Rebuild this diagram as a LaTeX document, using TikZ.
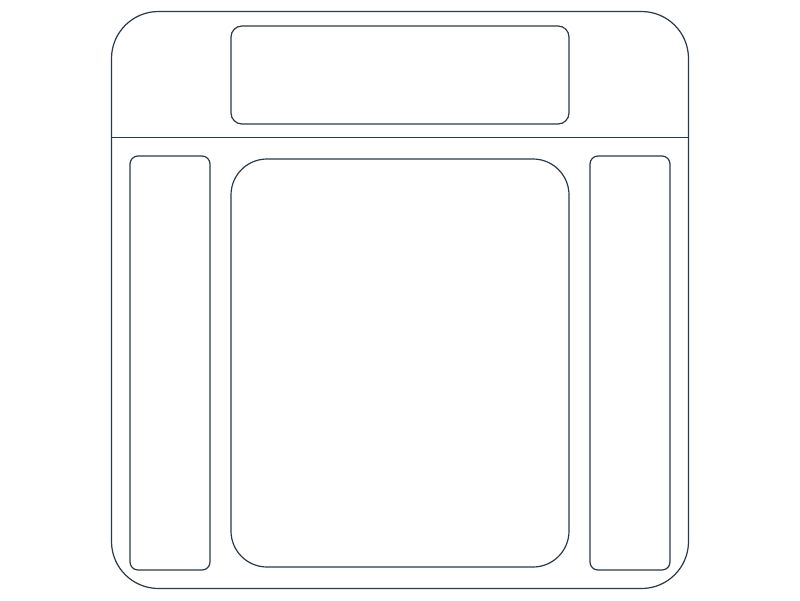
\documentclass[tikz,border=0pt]{standalone}
\usepackage{tikz}

\definecolor{linecol}{HTML}{2B3845}

\begin{document}
\begin{tikzpicture}[x = 1pt, y = -1pt, line width = 1.2pt]
          \useasboundingbox (0,0) rectangle (800,600);
          \tikzset{part/.style = {draw = linecol}}
          % outer frame and divider
          \draw[part, rounded corners = 47pt] (111.5,11.5) rectangle (688.5,588.5);
          \draw[part] (111.5,137.5) -- (688.5,137.5);
          % top panel
          \draw[part, rounded corners = 11pt] (231,26) rectangle (569,124);
          % side panels
          \draw[part, rounded corners = 8pt] (130,156) rectangle (210,570);
          \draw[part, rounded corners = 8pt] (590,156) rectangle (670,570);
          % centre panel
          \draw[part, rounded corners = 36pt] (231,159) rectangle (569,567);
        \end{tikzpicture}
\end{document}
